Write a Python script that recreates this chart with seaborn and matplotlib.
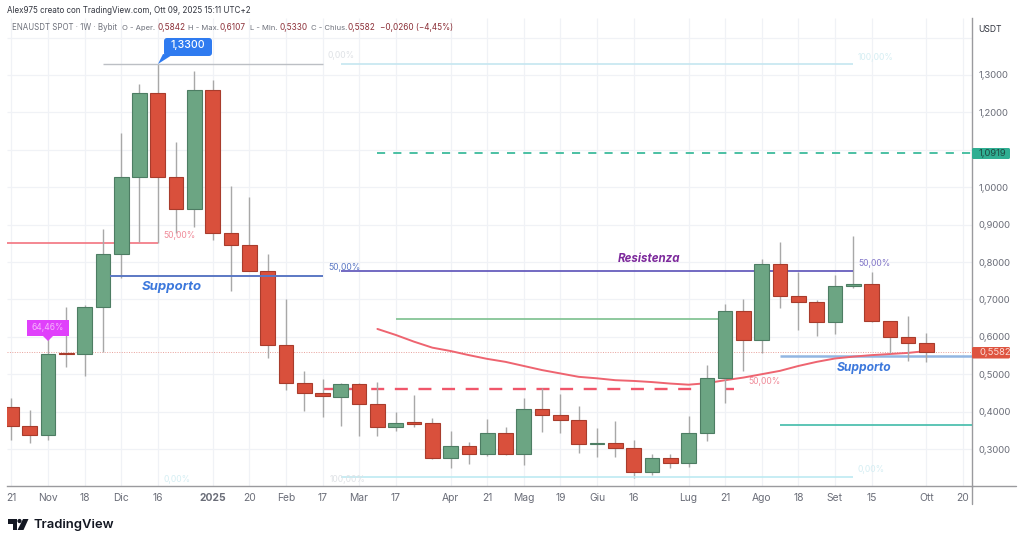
import pandas as pd
import matplotlib
matplotlib.use("Agg")
import matplotlib.pyplot as plt
from matplotlib.patches import FancyBboxPatch, Polygon, Rectangle, Circle
import seaborn as sns

# weekly candles, ENAUSDT
opens = [0.412, 0.362, 0.338, 0.556, 0.553, 0.679, 0.822, 1.028, 1.251, 1.028, 0.943, 1.261, 0.877,
         0.845, 0.776, 0.578, 0.476, 0.449, 0.440, 0.474, 0.420, 0.358, 0.371, 0.369, 0.277, 0.308,
         0.287, 0.344, 0.287, 0.408, 0.390, 0.378, 0.313, 0.317, 0.302, 0.238, 0.277, 0.262, 0.343,
         0.491, 0.669, 0.592, 0.796, 0.709, 0.694, 0.639, 0.736, 0.741, 0.641, 0.599, 0.5842]
closes = [0.362, 0.338, 0.554, 0.553, 0.679, 0.822, 1.027, 1.251, 1.028, 0.943, 1.261, 0.878, 0.845,
          0.776, 0.579, 0.476, 0.449, 0.441, 0.474, 0.420, 0.358, 0.369, 0.368, 0.277, 0.308, 0.287,
          0.344, 0.287, 0.408, 0.390, 0.378, 0.313, 0.317, 0.302, 0.238, 0.277, 0.262, 0.343, 0.491,
          0.669, 0.592, 0.796, 0.709, 0.694, 0.639, 0.736, 0.742, 0.641, 0.599, 0.583, 0.5582]
highs = [0.436, 0.404, 0.600, 0.680, 0.686, 0.888, 1.145, 1.276, 1.330, 1.122, 1.310, 1.287, 1.003,
         0.974, 0.821, 0.701, 0.508, 0.487, 0.477, 0.477, 0.480, 0.399, 0.444, 0.384, 0.349, 0.320,
         0.380, 0.359, 0.437, 0.462, 0.447, 0.415, 0.355, 0.376, 0.323, 0.287, 0.287, 0.388, 0.525,
         0.688, 0.700, 0.808, 0.854, 0.774, 0.698, 0.765, 0.870, 0.772, 0.643, 0.655, 0.6107]
lows = [0.324, 0.317, 0.324, 0.520, 0.496, 0.559, 0.757, 0.854, 0.850, 0.877, 0.893, 0.859, 0.723,
        0.775, 0.543, 0.458, 0.402, 0.386, 0.362, 0.336, 0.336, 0.349, 0.359, 0.272, 0.250, 0.261,
        0.281, 0.284, 0.256, 0.346, 0.343, 0.288, 0.279, 0.279, 0.222, 0.231, 0.249, 0.253, 0.322,
        0.424, 0.509, 0.557, 0.678, 0.618, 0.603, 0.607, 0.731, 0.640, 0.557, 0.535, 0.5330]

# moving average, starts at week 20
ma_weeks = list(range(20, 51))
ma_values = [0.621, 0.605, 0.587, 0.571, 0.562, 0.551, 0.541, 0.533, 0.522, 0.511, 0.502, 0.493, 0.489,
             0.484, 0.482, 0.479, 0.475, 0.472, 0.476, 0.484, 0.491, 0.500, 0.509, 0.522, 0.533, 0.542,
             0.547, 0.551, 0.554, 0.557, 0.562]

tick_weeks = [0, 2, 4, 6, 8, 11, 13, 15, 17, 19, 21, 24, 26, 28, 30, 32, 34, 37, 39, 41, 43, 45, 47, 50, 52]
tick_labels = ['21', 'Nov', '18', 'Dic', '16', '2025', '20', 'Feb', '17', 'Mar', '17', 'Apr', '21', 'Mag',
               '19', 'Giu', '16', 'Lug', '21', 'Ago', '18', 'Set', '15', 'Ott', '20']
price_ticks = [0.3, 0.4, 0.5, 0.6, 0.7, 0.8, 0.9, 1.0, 1.2, 1.3]  # 1,1000 sits under the target tag
grid_prices = price_ticks + [1.1, 1.4]

top_price = 1.33
last_price = 0.5582
target_price = 1.0919

df = pd.DataFrame({'open': opens, 'close': closes, 'high': highs, 'low': lows})
df['week'] = df.index
df['up'] = df['close'] >= df['open']
ma = pd.DataFrame({'week': ma_weeks, 'ma': ma_values})

sns.set_theme(style="white")
plt.rcParams['font.family'] = ['Inter', 'DejaVu Sans']

W, H = 1024, 545
fig = plt.figure(figsize=(W / 100, H / 100), dpi=100, facecolor='white')
# chart area in pixels: x 7..972, y 18..486
ax = fig.add_axes([7 / W, 1 - 486 / H, (972 - 7) / W, (486 - 18) / H])
ax.set_xlim(-0.24, 52.49)
ax.set_ylim(0.2011, 1.4524)

for s in ['top', 'left']:
    ax.spines[s].set_visible(False)
for s in ['bottom', 'right']:
    ax.spines[s].set_color('#9a9a9e')
    ax.spines[s].set_linewidth(1.0)

ax.vlines(tick_weeks, 0.2011, 1.4524, color='#f0f2f6', lw=0.9, zorder=0)
ax.hlines(grid_prices, -0.24, 52.49, color='#f0f2f6', lw=0.9, zorder=0)

# price line of the last close
ax.axhline(last_price, color='#e8a09a', lw=0.7, ls=(0, (1, 1.5)), zorder=1)

# drawings under the candles
ax.hlines(0.85, -0.24, 8, color='#f2737f', lw=1.2, zorder=1)
ax.hlines(0.46, 17.1, 39.5, color='#f0566a', lw=1.7, ls=(0, (5.5, 4.5)), zorder=1)
ax.hlines(0.648, 21, 39, color='#7cc08e', lw=1.2, zorder=1)
sns.lineplot(data=ma, x='week', y='ma', color='#ee6470', lw=1.4, ax=ax, zorder=1.5)

# candles
up = df[df['up']]
down = df[~df['up']]
ax.vlines(df['week'], df['low'], df['high'], color='#a8a8a8', lw=1.0, zorder=2)
ax.bar(up['week'], up['close'] - up['open'], bottom=up['open'], width=0.8, color='#6ca583',
       edgecolor='#4d7d63', lw=0.8, zorder=3)
ax.bar(down['week'], down['open'] - down['close'], bottom=down['close'], width=0.8, color='#d9503c',
       edgecolor='#a83c2c', lw=0.8, zorder=3)

# drawings over the candles
ax.hlines(top_price, 5, 17, color='#bcbfc4', lw=1.0, zorder=4)
ax.hlines(top_price, 18, 46, color='#c5e6f0', lw=1.2, zorder=4)
ax.hlines(0.762, 5.4, 17, color='#5b78c4', lw=1.4, zorder=4)
ax.hlines(0.776, 18, 46, color='#5a50b8', lw=1.2, zorder=2.5)
ax.hlines(target_price, 20, 52.49, color='#3dbb9c', lw=1.3, ls=(0, (4.5, 4.5)), zorder=4)
ax.hlines(0.55, 42, 52.49, color='#92b6e2', lw=1.8, zorder=1.2)
ax.hlines(0.363, 42, 52.49, color='#4fc0b0', lw=1.3, zorder=4)
ax.hlines(0.225, 18, 46, color='#bdeaf2', lw=1.2, zorder=4)

ax.set_xticks(tick_weeks)
ax.set_xticklabels(tick_labels)
ax.yaxis.tick_right()
ax.set_yticks(price_ticks)
ax.set_yticklabels([f"{p:.4f}".replace('.', ',') for p in price_ticks])
ax.tick_params(axis='x', length=0, pad=5, labelsize=7.4, labelcolor='#6a6d78')
ax.tick_params(axis='y', length=0, pad=5, labelsize=6.8, labelcolor='#6a6d78')
ax.set_xlabel('')
ax.set_ylabel('')
for lab in ax.get_xticklabels():
    if lab.get_text() == '2025':
        lab.set_fontweight('bold')

# everything else is placed in picture pixels
ov = fig.add_axes([0, 0, 1, 1], facecolor='none')
ov.set_xlim(0, W)
ov.set_ylim(H, 0)
ov.axis('off')


def label(x, y, s, color, size=6.2, **kw):
    kw.setdefault('ha', 'left')
    kw.setdefault('va', 'center')
    ov.text(x, y, s, color=color, fontsize=size, **kw)


# axis stubs
ov.plot([972, 1016], [486, 486], color='#9a9a9e', lw=1.0)
ov.plot([972, 972], [486, 504], color='#9a9a9e', lw=1.0)

# header
label(7, 10.5, 'Alex975 creato con TradingView.com, Ott 09, 2025 15:11 UTC+2', '#333640', size=5.8)
grey = '#6f727c'
val = '#8c3038'
label(12.5, 28, 'ENAUSDT SPOT · 1W · Bybit', grey, size=5.7)
for x, s, c in [(122.5, 'O - Aper.', grey), (188.5, 'H - Max.', grey), (250.5, 'L - Min.', grey),
                (311, 'C - Chius.', grey)]:
    label(x, 28, s, c, size=5.5)
for x, s, c in [(157, '0,5842', val), (220, '0,6107', val), (279, '0,5330', val), (348, '0,5582', val),
                (380, '−0,0260 (−4,45%)', val)]:
    label(x, 28, s, c, size=5.9)

label(1002, 29, 'USDT', '#333640', size=6.2, ha='right')

# fib labels
label(328, 56, '0,00%', '#dfe2e6')
label(858, 58, '100,00%', '#d5eef3')
label(163, 235, '50,00%', '#f08a98')
label(328, 268, '50,00%', '#5b78c4')
label(858, 263, '50,00%', '#8175c8')
label(748, 381, '50,00%', '#f08a98')
label(163, 480, '0,00%', '#d5eef3')
label(330, 479, '100,00%', '#dfe2e6')
label(858, 469, '0,00%', '#d5eef3')

# text notes
label(142, 287, 'Supporto', '#3c78dc', size=9.5, fontweight='bold', fontstyle='italic')
label(837, 368, 'Supporto', '#3c78dc', size=8.7, fontweight='bold', fontstyle='italic')
label(618, 258.5, 'Resistenza', '#7d2a9c', size=8.3, fontweight='bold', fontstyle='italic')

# callouts
ov.add_patch(FancyBboxPatch((166, 40), 44, 14, boxstyle='round,pad=2,rounding_size=3', fc='#2f7bf0', ec='none', zorder=6))
ov.add_patch(Polygon([[158, 64], [163, 54], [172, 55]], fc='#2f7bf0', ec='none', zorder=6))
label(188, 45.5, '1,3300', 'white', size=7.6, ha='center', zorder=7, fontweight='medium')

ov.add_patch(Rectangle((27, 320), 42, 16, fc='#e040fb', ec='none', zorder=6))
ov.add_patch(Polygon([[43, 336], [53, 336], [48, 341]], fc='#e040fb', ec='none', zorder=6))
label(48, 328, '64,46%', '#f6b6fb', size=6.1, ha='center', zorder=7)

# price tags
ov.add_patch(FancyBboxPatch((972, 148), 38, 11, boxstyle='round,pad=0,rounding_size=1.5', fc='#2fae92', ec='none', zorder=6))
label(979, 153.5, '1,0919', '#1f4a42', size=6.8, zorder=7)
ov.add_patch(FancyBboxPatch((972, 347), 38, 11.5, boxstyle='round,pad=0,rounding_size=1.5', fc='#de5440', ec='none', zorder=6))
label(979, 352.8, '0,5582', '#fbdcd6', size=6.8, zorder=7)

# logo
ov.add_patch(Polygon([[8, 519], [17, 519], [17, 530], [13, 530], [13, 523.5], [8, 523.5]], fc='#131722', ec='none'))
ov.add_patch(Circle((19.5, 521), 2.1, fc='#131722', ec='none'))
ov.add_patch(Polygon([[23, 519], [28.5, 519], [23.5, 530], [17.5, 530]], fc='#131722', ec='none'))
label(33, 525, 'TradingView', '#131722', size=9.4, fontweight='semibold')

fig.savefig('out.png', dpi=100, facecolor='white')
